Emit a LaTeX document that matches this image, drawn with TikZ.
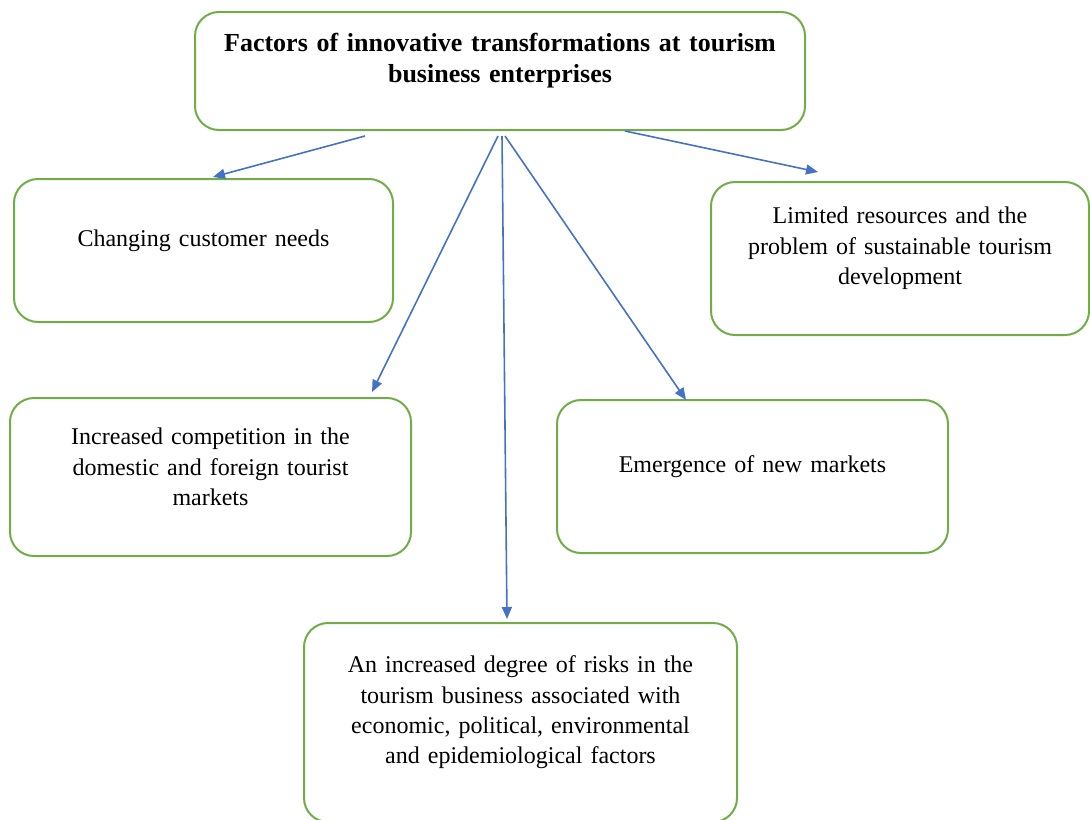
\documentclass[tikz,border=0pt]{standalone}
\usepackage{fontspec}
\setmainfont{Liberation Serif}
\usetikzlibrary{arrows.meta,calc}
\definecolor{boxgreen}{RGB}{112,173,71}
\definecolor{linkblue}{RGB}{68,114,196}
% leaves room under the text, so it sits a little above the middle
\newcommand{\boxgap}{\endgraf\vspace{10pt}}

\begin{document}
\begin{tikzpicture}[x=0.5pt, y=-0.5pt,
		factor/.style={draw=boxgreen, line width=1pt, rounded corners=12pt, align=center,
			font=\fontsize{12}{15.2}\selectfont, execute at end node=\boxgap},
		link/.style={draw=linkblue, line width=0.8pt, -{Triangle[length=6pt,width=5pt]}}]
	\useasboundingbox (0,0) rectangle (1090,819);
	% main box
	\node[factor, minimum width=305pt, minimum height=59pt, text width=295pt,
		font=\fontsize{13}{15.5}\selectfont\bfseries] (top) at (500,71)
		{Factors of innovative transformations at tourism\\ business enterprises};
	% the factors
	\node[factor, minimum width=189.5pt, minimum height=71.5pt, text width=180pt] (chg) at (203.5,250.5)
		{Changing customer needs};
	\node[factor, minimum width=189pt, minimum height=76.5pt, text width=180pt] (lim) at (900,258.5)
		{Limited resources and the\\ problem of sustainable tourism\\ development};
	\node[factor, minimum width=200.5pt, minimum height=79pt, text width=190pt] (comp) at (210.5,477)
		{Increased competition in the\\ domestic and foreign tourist\\ markets};
	\node[factor, minimum width=195.5pt, minimum height=76.5pt, text width=185pt] (emg) at (752.5,476.5)
		{Emergence of new markets};
	\node[factor, minimum width=216.5pt, minimum height=99.5pt, text width=205pt] (risk) at (520.5,722.5)
		{An increased degree of risks in the\\ tourism business associated with\\ economic, political, environmental\\ and epidemiological factors};
	% arrows
	\draw[link] ($(top.south)+(-135,5)$) -- ($(chg.north)+(9.5,-1)$);
	\draw[link] ($(top.south)+(-2,5)$) -- ($(comp.north)+(161.5,-5)$);
	\draw[link] ($(top.south)+(2,5)$) -- ($(risk.north)+(-13.5,-3)$);
	\draw[link] ($(top.south)+(5,5)$) -- ($(emg.north)+(-66.5,1)$);
	\draw[link] ($(top.south)+(125,0)$) -- ($(lim.north)+(-82,-9)$);
\end{tikzpicture}
\end{document}
